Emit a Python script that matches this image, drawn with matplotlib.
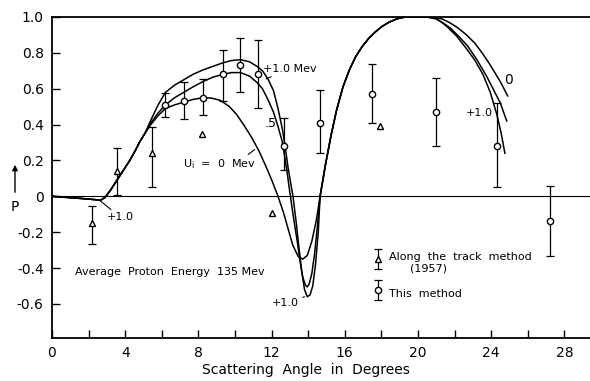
import numpy as np
import matplotlib.pyplot as plt
from matplotlib.ticker import FixedLocator, FixedFormatter
from matplotlib.legend_handler import HandlerErrorbar

# theoretical curves P(theta) for U_i = 0, .5 and +1.0 Mev
rise_x = [14.65, 14.95, 15.25, 15.55, 15.9, 16.25, 16.6, 16.95, 17.3, 17.65, 18.0,
          18.4, 18.85, 19.3, 20.5]
rise_y = [0.0, 0.18, 0.34, 0.48, 0.61, 0.705, 0.78, 0.835, 0.88, 0.915, 0.945,
          0.97, 0.99, 1.0, 1.0]
left_x = [0, 0.8, 1.6, 2.3, 2.65, 2.9, 3.2, 3.55, 3.9, 4.25, 4.55, 4.8, 5.1]
left_y = [0, -0.006, -0.012, -0.018, -0.022, -0.006, 0.035, 0.09, 0.145, 0.2, 0.255,
          0.305, 0.355]

u0_x = left_x + [5.4, 5.8, 6.2, 6.7, 7.2, 7.7, 8.25, 8.7, 9.2, 9.7, 10.1, 10.5, 10.9,
                 11.3, 11.7, 12.05, 12.35, 12.65, 12.9, 13.15, 13.45, 13.7, 13.95, 14.2,
                 14.45] \
    + rise_x + [20.8, 21.3, 21.7, 22.1, 22.6, 23.1, 23.5, 23.9, 24.2, 24.55, 24.9]
u0_y = left_y + [0.40, 0.45, 0.49, 0.51, 0.525, 0.54, 0.55, 0.548, 0.535, 0.50, 0.455,
                 0.395, 0.33, 0.255, 0.165, 0.08, 0.0, -0.09, -0.18, -0.27, -0.335, -0.35,
                 -0.33, -0.25, -0.13] \
    + rise_y + [1.0, 0.99, 0.97, 0.945, 0.905, 0.855, 0.80, 0.74, 0.69, 0.63, 0.56]

u5_x = left_x + [5.4, 5.8, 6.2, 6.7, 7.2, 7.7, 8.25, 8.8, 9.35, 9.8, 10.3, 10.8, 11.2,
                 11.5, 11.8, 12.1, 12.35, 12.57, 12.75, 12.88, 13.0, 13.2, 13.4, 13.55,
                 13.7, 13.85, 13.95, 14.05, 14.2, 14.35, 14.5] \
    + rise_x + [21.0, 21.4, 21.75, 22.2, 22.7, 23.2, 23.75, 24.1, 24.5, 24.85]
u5_y = left_y + [0.41, 0.465, 0.51, 0.55, 0.58, 0.61, 0.64, 0.665, 0.68, 0.69, 0.69, 0.67,
                 0.635, 0.60, 0.54, 0.47, 0.39, 0.31, 0.20, 0.11, 0.02, -0.12, -0.25,
                 -0.36, -0.45, -0.495, -0.505, -0.49, -0.43, -0.32, -0.17] \
    + rise_y + [0.99, 0.965, 0.94, 0.895, 0.84, 0.765, 0.67, 0.60, 0.52, 0.42]

u1_x = left_x + [5.4, 5.8, 6.2, 6.7, 7.2, 7.7, 8.25, 8.8, 9.35, 9.8, 10.3, 10.8, 11.2,
                 11.5, 11.8, 12.1, 12.35, 12.6, 12.75, 12.9, 13.05, 13.17, 13.35, 13.5,
                 13.65, 13.8, 13.95, 14.1, 14.25, 14.4, 14.55] \
    + rise_x + [21.0, 21.3, 21.6, 22.1, 22.6, 23.1, 23.55, 23.95, 24.3, 24.55, 24.75]
u1_y = left_y + [0.425, 0.51, 0.58, 0.62, 0.65, 0.68, 0.705, 0.725, 0.745, 0.757, 0.762,
                 0.75, 0.725, 0.70, 0.655, 0.59, 0.49, 0.37, 0.27, 0.16, 0.07, 0.0, -0.15,
                 -0.29, -0.42, -0.52, -0.56, -0.55, -0.50, -0.38, -0.20] \
    + rise_y + [0.99, 0.97, 0.945, 0.895, 0.83, 0.76, 0.68, 0.58, 0.46, 0.35, 0.24]

# measured points with error bars
this_x = [6.2, 7.2, 8.25, 9.35, 10.27, 11.25, 12.7, 14.64, 17.5, 21.0, 24.3, 27.2]
this_y = [0.51, 0.53, 0.55, 0.68, 0.73, 0.68, 0.28, 0.41, 0.57, 0.47, 0.28, -0.14]
this_lo = [0.44, 0.43, 0.455, 0.53, 0.58, 0.49, 0.145, 0.24, 0.41, 0.28, 0.05, -0.335]
this_hi = [0.575, 0.635, 0.655, 0.815, 0.885, 0.87, 0.435, 0.595, 0.74, 0.66, 0.52, 0.06]

track_x = [2.2, 3.53, 5.47]
track_y = [-0.15, 0.14, 0.24]
track_lo = [-0.265, 0.01, 0.05]
track_hi = [-0.055, 0.272, 0.385]
# triangles drawn without error bars
track_nx = [8.2, 12.0, 17.9]
track_ny = [0.35, -0.094, 0.394]

plt.rcParams['font.family'] = 'DejaVu Sans'

fig = plt.figure(figsize=(5.9, 3.81), dpi=100)
ax = fig.add_axes([52 / 590, 43 / 381, 538 / 590, 321 / 381])

lw = 1.1
ax.plot(u0_x, u0_y, color='black', lw=lw)
ax.plot(u5_x, u5_y, color='black', lw=lw)
ax.plot(u1_x, u1_y, color='black', lw=lw)
ax.axhline(0, color='black', lw=0.8)

yerr_t = [np.array(track_y) - np.array(track_lo), np.array(track_hi) - np.array(track_y)]
eb_t = ax.errorbar(track_x, track_y, yerr=yerr_t, fmt='^', ms=5, mfc='white',
                   mec='black', ecolor='black', elinewidth=0.9, capsize=3, capthick=0.9,
                   color='black', zorder=3)
ax.plot(track_nx, track_ny, '^', ms=5, mfc='white', mec='black', zorder=3)

yerr_c = [np.array(this_y) - np.array(this_lo), np.array(this_hi) - np.array(this_y)]
eb_c = ax.errorbar(this_x, this_y, yerr=yerr_c, fmt='o', ms=4.5, mfc='white',
                   mec='black', ecolor='black', elinewidth=0.9, capsize=3, capthick=0.9,
                   color='black', zorder=3)

ax.set_xlim(0, 29.4)
ax.set_ylim(-0.79, 1.0)

for side in ['left', 'bottom', 'top']:
    ax.spines[side].set_linewidth(1.3)
ax.spines['right'].set_visible(False)

xt = [0, 4, 8, 12, 16, 20, 24, 28]
ax.xaxis.set_major_locator(FixedLocator(xt))
ax.xaxis.set_major_formatter(FixedFormatter([str(v) for v in xt]))
ax.xaxis.set_minor_locator(FixedLocator([2, 6, 10, 14, 18, 22, 26]))
yt = [-0.6, -0.4, -0.2, 0, 0.2, 0.4, 0.6, 0.8, 1.0]
ax.yaxis.set_major_locator(FixedLocator(yt))
ax.yaxis.set_major_formatter(FixedFormatter(['-0.6', '-0.4', '-0.2', '0', '0.2', '0.4',
                                             '0.6', '0.8', '1.0']))
ax.tick_params(which='both', direction='in', length=6, width=1, labelsize=10, pad=6)

fs = 8
ax.text(1.25, -0.42, 'Average  Proton  Energy  135 Mev', fontsize=fs, va='center')
ax.annotate('+1.0', xy=(2.6, -0.022), xytext=(3.0, -0.117), fontsize=fs, va='center',
            arrowprops=dict(arrowstyle='-', color='black', lw=0.8, shrinkA=0, shrinkB=0))
ax.annotate('+1.0 Mev', xy=(11.7, 0.655), xytext=(11.55, 0.71), fontsize=fs, va='center',
            arrowprops=dict(arrowstyle='-', color='black', lw=0.8, shrinkA=0, shrinkB=0))
ax.text(11.64, 0.405, '.5', fontsize=fs + 1, va='center')
ax.annotate(r'U$_\mathregular{i}$  =  0  Mev', xy=(11.2, 0.27), xytext=(7.15, 0.18),
            fontsize=fs, va='center',
            arrowprops=dict(arrowstyle='-', color='black', lw=0.8, shrinkA=0, shrinkB=2,
                            relpos=(0.78, 0.75)))
ax.annotate('+1.0', xy=(13.8, -0.56), xytext=(12.0, -0.594), fontsize=fs, va='center',
            arrowprops=dict(arrowstyle='-', color='black', lw=0.8, shrinkA=1, shrinkB=0))
ax.text(24.95, 0.65, '0', fontsize=fs + 2, va='center', ha='center')
ax.text(22.6, 0.467, '+1.0', fontsize=fs, va='center')

leg = ax.legend([eb_t, eb_c], ['Along  the  track  method\n      (1957)', 'This  method'],
                loc='upper left', bbox_to_anchor=(0.575, 0.30), frameon=False,
                fontsize=fs, handlelength=1.2, handleheight=2.6, handletextpad=0.4,
                labelspacing=0.8,
                handler_map={type(eb_t): HandlerErrorbar(yerr_size=0.9)})

fig.text(306 / 590, 1 - 370 / 381, 'Scattering  Angle  in  Degrees', fontsize=10,
         ha='center', va='center')
fig.text(15 / 590, 1 - 207 / 381, 'P', fontsize=10, ha='center', va='center')
ax.annotate('', xy=(15 / 590, 1 - 162 / 381), xytext=(15 / 590, 1 - 195 / 381),
            xycoords='figure fraction', textcoords='figure fraction',
            arrowprops=dict(arrowstyle='-|>', color='black', lw=1, mutation_scale=8))

fig.savefig('out.png', dpi=100)
